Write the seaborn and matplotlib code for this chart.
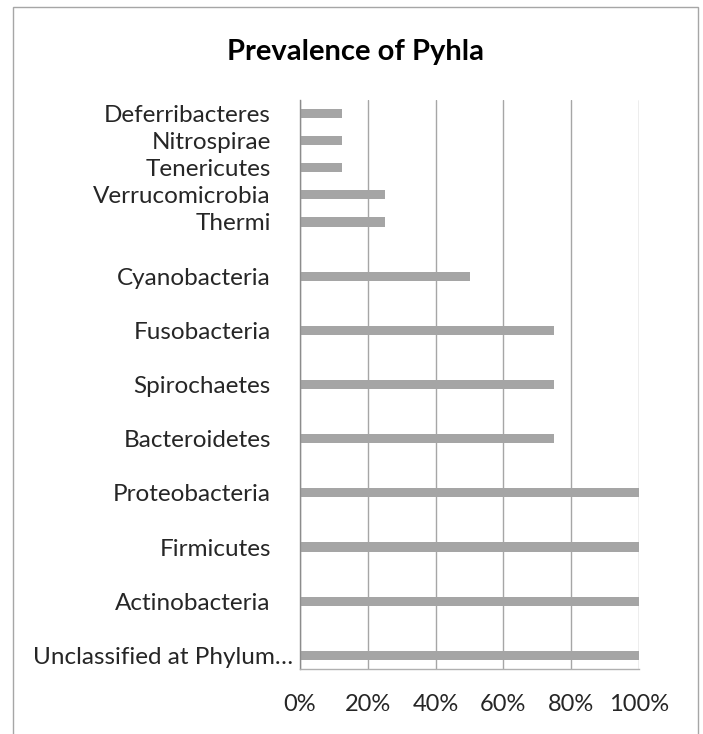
import numpy as np
import pandas as pd
import matplotlib
matplotlib.use("Agg")
import matplotlib.pyplot as plt
import matplotlib.transforms as mtransforms
from matplotlib.patches import Rectangle
import seaborn as sns

# spreadsheet rows, bottom to top; "" = blank row in the source table
rows = ["Unclassified at Phylum\u2026", "", "Actinobacteria", "", "Firmicutes", "",
        "Proteobacteria", "", "Bacteroidetes", "", "Spirochaetes", "",
        "Fusobacteria", "", "Cyanobacteria", "", "Thermi", "Verrucomicrobia",
        "Tenericutes", "Nitrospirae", "Deferribacteres"]
prevalence = [1.0, None, 1.0, None, 1.0, None,
              1.0, None, 0.75, None, 0.75, None,
              0.75, None, 0.5, None, 0.25, 0.25,
              0.125, 0.125, 0.125]
x_ticks = [0, 0.2, 0.4, 0.6, 0.8, 1.0]
x_labels = ["0%", "20%", "40%", "60%", "80%", "100%"]

sns.set_theme(style="white")
plt.rcParams['font.family'] = ['Lato', 'DejaVu Sans']

df = pd.DataFrame({"phylum": rows, "prevalence": prevalence})
df["row"] = df.index
bars = df.dropna()

fig = plt.figure(figsize=(7.03, 7.34), dpi=100)
ax = fig.add_axes([300/703, 65/734, 339/703, 569/734])

sns.barplot(data=bars, x="prevalence", y="row", orient="h", native_scale=True,
            width=0.34, color="#a5a5a5", saturation=1, linewidth=0, ax=ax)

ax.set_xlim(0, 1)
ax.set_ylim(-0.5, len(rows) - 0.5)
ax.set_xticks(x_ticks)
ax.set_xticklabels(x_labels, fontsize=17)
ax.set_yticks(bars["row"])
ax.set_yticklabels(bars["phylum"], fontsize=17.5)
ax.set_xlabel("")
ax.set_ylabel("")
ax.tick_params(axis="x", length=0, pad=18)
ax.tick_params(axis="y", length=0, pad=21)
ax.xaxis.grid(True, color="#a6a6a6", linewidth=1)
ax.yaxis.grid(False)
ax.set_axisbelow(True)
for s in ["top", "right"]:
    ax.spines[s].set_visible(False)
ax.spines["left"].set_color("#8c8c8c")
ax.spines["bottom"].set_color("#b0b0b0")
ax.spines["left"].set_linewidth(1)
ax.spines["bottom"].set_linewidth(1)

# the long label overflows to the right in the original
lbl = ax.get_yticklabels()[0]
lbl.set_transform(lbl.get_transform() + mtransforms.ScaledTranslation(22/100, 0, fig.dpi_scale_trans))

fig.text(355/703, 1 - 52/734, "Prevalence of Pyhla", ha="center", va="center",
         fontsize=21, fontweight="bold", color="black")

fig.patches.append(Rectangle((13/703, -0.05), 685/703, 1.05 - 7/734, transform=fig.transFigure,
                             fill=False, edgecolor="#a6a6a6", linewidth=1))

plt.savefig("out.png", dpi=100)
